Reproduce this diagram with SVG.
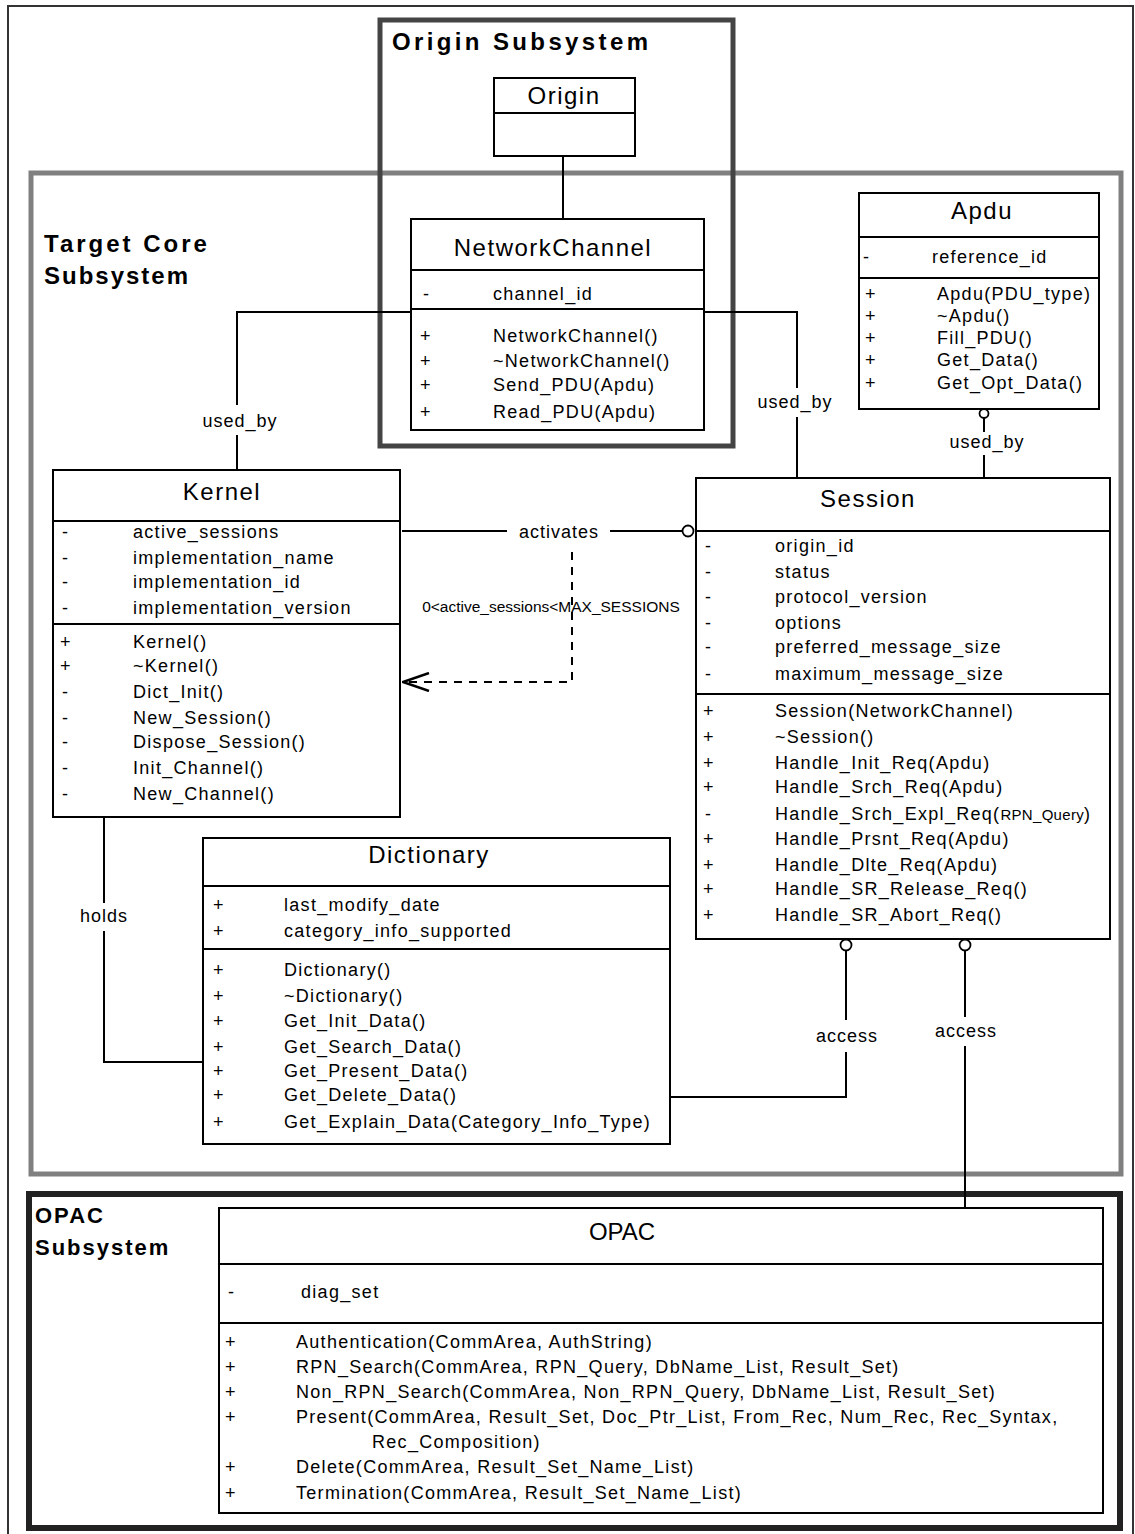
<svg xmlns="http://www.w3.org/2000/svg" width="1135" height="1534" viewBox="0 0 1135 1534">
<style>
.box{fill:#fff;stroke:#000;stroke-width:2}
.dv{stroke:#000;stroke-width:2}
text{font-family:"Liberation Sans",Arial,sans-serif;fill:#000}
.t{font-size:18px;letter-spacing:1.3px}
.ti{font-size:24px;letter-spacing:1.5px;text-anchor:middle}
.sub{font-size:24px;font-weight:bold;letter-spacing:2px}
.conn{stroke:#000;stroke-width:2;fill:none}
.dash{stroke:#000;stroke-width:2;fill:none;stroke-dasharray:8 7}
.lbl{font-size:18px;letter-spacing:1px;text-anchor:middle}
.lol{fill:#fff;stroke:#000;stroke-width:1.8}
</style>
<defs>
<marker id="open" viewBox="0 0 30 20" refX="29" refY="10" markerWidth="30" markerHeight="20" markerUnits="userSpaceOnUse" orient="auto">
<path d="M3,1 L29,10 L3,19" fill="none" stroke="#000" stroke-width="2.5"/>
</marker>
</defs>
<rect width="1135" height="1534" fill="#fff"/>
<rect x="8" y="6" width="1125" height="1545" fill="none" stroke="#333" stroke-width="2"/>

<g id="target-core-subsystem">
<rect x="31" y="173" width="1090" height="1001" fill="none" stroke="#808080" stroke-width="5"/>
<text class="sub" x="44" y="252" style="letter-spacing:3px">Target Core</text>
<text class="sub" x="44" y="284">Subsystem</text>
</g>
<g id="opac-subsystem">
<rect x="29" y="1194" width="1091" height="334" fill="none" stroke="#222" stroke-width="6"/>
<text class="sub" x="35" y="1223" style="font-size:22px">OPAC</text>
<text class="sub" x="35" y="1255" style="font-size:22px">Subsystem</text>
</g>

<g id="origin-subsystem">
<rect x="380" y="20" width="353" height="426" fill="none" stroke="#444" stroke-width="5"/>
<text class="sub" x="392" y="50" textLength="258" lengthAdjust="spacing">Origin Subsystem</text>
</g>

<g id="origin">
<rect class="box" x="494" y="78" width="141" height="78"/>
<line class="dv" x1="494" y1="113" x2="635" y2="113"/>
<text class="ti" x="564" y="104">Origin</text>
</g>

<g id="networkchannel">
<rect class="box" x="411" y="219" width="293" height="211"/>
<line class="dv" x1="411" y1="270" x2="704" y2="270"/>
<line class="dv" x1="411" y1="309" x2="704" y2="309"/>
<text class="ti" x="553" y="256">NetworkChannel</text>
<text class="t" x="423" y="300">-</text><text class="t" x="493" y="300">channel_id</text>
<text class="t" x="420" y="342">+</text><text class="t" x="493" y="342">NetworkChannel()</text>
<text class="t" x="420" y="367">+</text><text class="t" x="493" y="367">~NetworkChannel()</text>
<text class="t" x="420" y="391">+</text><text class="t" x="493" y="391">Send_PDU(Apdu)</text>
<text class="t" x="420" y="418">+</text><text class="t" x="493" y="418">Read_PDU(Apdu)</text>
</g>

<g id="apdu">
<rect class="box" x="859" y="193" width="240" height="216"/>
<line class="dv" x1="859" y1="237" x2="1099" y2="237"/>
<line class="dv" x1="859" y1="278" x2="1099" y2="278"/>
<text class="ti" x="982" y="219">Apdu</text>
<text class="t" x="863" y="263">-</text><text class="t" x="932" y="263">reference_id</text>
<text class="t" x="865" y="300">+</text><text class="t" x="937" y="300">Apdu(PDU_type)</text>
<text class="t" x="865" y="322">+</text><text class="t" x="937" y="322">~Apdu()</text>
<text class="t" x="865" y="344">+</text><text class="t" x="937" y="344">Fill_PDU()</text>
<text class="t" x="865" y="366">+</text><text class="t" x="937" y="366">Get_Data()</text>
<text class="t" x="865" y="389">+</text><text class="t" x="937" y="389">Get_Opt_Data()</text>
</g>

<g id="kernel">
<rect class="box" x="53" y="470" width="347" height="347"/>
<line class="dv" x1="53" y1="521" x2="400" y2="521"/>
<line class="dv" x1="53" y1="624" x2="400" y2="624"/>
<text class="ti" x="222" y="500">Kernel</text>
<text class="t" x="62" y="538">-</text><text class="t" x="133" y="538">active_sessions</text>
<text class="t" x="62" y="564">-</text><text class="t" x="133" y="564">implementation_name</text>
<text class="t" x="62" y="588">-</text><text class="t" x="133" y="588">implementation_id</text>
<text class="t" x="62" y="614">-</text><text class="t" x="133" y="614">implementation_version</text>
<text class="t" x="60" y="648">+</text><text class="t" x="133" y="648">Kernel()</text>
<text class="t" x="60" y="672">+</text><text class="t" x="133" y="672">~Kernel()</text>
<text class="t" x="62" y="698">-</text><text class="t" x="133" y="698">Dict_Init()</text>
<text class="t" x="62" y="724">-</text><text class="t" x="133" y="724">New_Session()</text>
<text class="t" x="62" y="748">-</text><text class="t" x="133" y="748">Dispose_Session()</text>
<text class="t" x="62" y="774">-</text><text class="t" x="133" y="774">Init_Channel()</text>
<text class="t" x="62" y="800">-</text><text class="t" x="133" y="800">New_Channel()</text>
</g>

<g id="session">
<rect class="box" x="696" y="478" width="414" height="461"/>
<line class="dv" x1="696" y1="531" x2="1110" y2="531"/>
<line class="dv" x1="696" y1="694" x2="1110" y2="694"/>
<text class="ti" x="868" y="507">Session</text>
<text class="t" x="705" y="552">-</text><text class="t" x="775" y="552">origin_id</text>
<text class="t" x="705" y="578">-</text><text class="t" x="775" y="578">status</text>
<text class="t" x="705" y="603">-</text><text class="t" x="775" y="603">protocol_version</text>
<text class="t" x="705" y="629">-</text><text class="t" x="775" y="629">options</text>
<text class="t" x="705" y="653">-</text><text class="t" x="775" y="653">preferred_message_size</text>
<text class="t" x="705" y="680">-</text><text class="t" x="775" y="680">maximum_message_size</text>
<text class="t" x="703" y="717">+</text><text class="t" x="775" y="717">Session(NetworkChannel)</text>
<text class="t" x="703" y="743">+</text><text class="t" x="775" y="743">~Session()</text>
<text class="t" x="703" y="769">+</text><text class="t" x="775" y="769">Handle_Init_Req(Apdu)</text>
<text class="t" x="703" y="793">+</text><text class="t" x="775" y="793">Handle_Srch_Req(Apdu)</text>
<text class="t" x="705" y="820">-</text><text class="t" x="775" y="820">Handle_Srch_Expl_Req(<tspan style="font-size:15px;letter-spacing:0.3px">RPN_Query</tspan>)</text>
<text class="t" x="703" y="845">+</text><text class="t" x="775" y="845">Handle_Prsnt_Req(Apdu)</text>
<text class="t" x="703" y="871">+</text><text class="t" x="775" y="871">Handle_Dlte_Req(Apdu)</text>
<text class="t" x="703" y="895">+</text><text class="t" x="775" y="895">Handle_SR_Release_Req()</text>
<text class="t" x="703" y="921">+</text><text class="t" x="775" y="921">Handle_SR_Abort_Req()</text>
</g>

<g id="dictionary">
<rect class="box" x="203" y="838" width="467" height="306"/>
<line class="dv" x1="203" y1="886" x2="670" y2="886"/>
<line class="dv" x1="203" y1="949" x2="670" y2="949"/>
<text class="ti" x="429" y="863">Dictionary</text>
<text class="t" x="213" y="911">+</text><text class="t" x="284" y="911">last_modify_date</text>
<text class="t" x="213" y="937">+</text><text class="t" x="284" y="937">category_info_supported</text>
<text class="t" x="213" y="976">+</text><text class="t" x="284" y="976">Dictionary()</text>
<text class="t" x="213" y="1002">+</text><text class="t" x="284" y="1002">~Dictionary()</text>
<text class="t" x="213" y="1027">+</text><text class="t" x="284" y="1027">Get_Init_Data()</text>
<text class="t" x="213" y="1053">+</text><text class="t" x="284" y="1053">Get_Search_Data()</text>
<text class="t" x="213" y="1077">+</text><text class="t" x="284" y="1077">Get_Present_Data()</text>
<text class="t" x="213" y="1101">+</text><text class="t" x="284" y="1101">Get_Delete_Data()</text>
<text class="t" x="213" y="1128">+</text><text class="t" x="284" y="1128">Get_Explain_Data(Category_Info_Type)</text>
</g>

<g id="opac">
<rect class="box" x="219" y="1208" width="884" height="305"/>
<line class="dv" x1="219" y1="1264" x2="1103" y2="1264"/>
<line class="dv" x1="219" y1="1323" x2="1103" y2="1323"/>
<text class="ti" x="622" y="1240" style="letter-spacing:0">OPAC</text>
<text class="t" x="228" y="1298">-</text><text class="t" x="301" y="1298">diag_set</text>
<text class="t" x="225" y="1348">+</text><text class="t" x="296" y="1348">Authentication(CommArea, AuthString)</text>
<text class="t" x="225" y="1373">+</text><text class="t" x="296" y="1373">RPN_Search(CommArea, RPN_Query, DbName_List, Result_Set)</text>
<text class="t" x="225" y="1398">+</text><text class="t" x="296" y="1398">Non_RPN_Search(CommArea, Non_RPN_Query, DbName_List, Result_Set)</text>
<text class="t" x="225" y="1423">+</text><text class="t" x="296" y="1423">Present(CommArea, Result_Set, Doc_Ptr_List, From_Rec, Num_Rec, Rec_Syntax,</text>
<text class="t" x="372" y="1448">Rec_Composition)</text>
<text class="t" x="225" y="1473">+</text><text class="t" x="296" y="1473">Delete(CommArea, Result_Set_Name_List)</text>
<text class="t" x="225" y="1499">+</text><text class="t" x="296" y="1499">Termination(CommArea, Result_Set_Name_List)</text>
</g>

<g id="connectors">
<line class="conn" x1="563" y1="156" x2="563" y2="219"/>
<path class="conn" d="M411,312 H237 V405 M237,435 V470"/>
<text class="lbl" x="240" y="427">used_by</text>
<path class="conn" d="M704,312 H797 V388 M797,417 V478"/>
<text class="lbl" x="795" y="408">used_by</text>
<circle class="lol" cx="984" cy="413.5" r="4.5"/>
<path class="conn" d="M984,418 V432 M984,455 V478"/>
<text class="lbl" x="987" y="448">used_by</text>
<path class="conn" d="M402,531 H507 M610,531 H682"/>
<circle class="lol" cx="688" cy="531" r="5.5"/>
<text class="lbl" x="559" y="538">activates</text>
<path class="dash" d="M572,552 V682 H403" marker-end="url(#open)"/>
<text x="551" y="612" style="font-size:15.5px;text-anchor:middle">0&lt;active_sessions&lt;MAX_SESSIONS</text>
<path class="conn" d="M104,817 V903 M104,931 V1062 H203"/>
<text class="lbl" x="104" y="922">holds</text>
<circle class="lol" cx="846" cy="945" r="5.5"/>
<path class="conn" d="M846,950 V1020 M846,1052 V1097 H670"/>
<text class="lbl" x="847" y="1042">access</text>
<circle class="lol" cx="965" cy="945" r="5.5"/>
<path class="conn" d="M965,950 V1017 M965,1046 V1208"/>
<text class="lbl" x="966" y="1037">access</text>
</g>
</svg>
